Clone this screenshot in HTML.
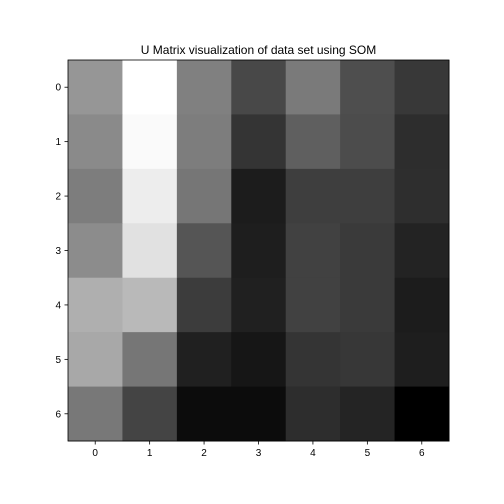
<!DOCTYPE html>
<html><head><meta charset="utf-8"><style>
body{margin:0;background:#fff;}
svg{display:block;font-family:"Liberation Sans","DejaVu Sans",sans-serif;}
</style></head><body>
<svg id="chart" width="504" height="504">
<rect width="504" height="504" fill="#fff"/>
<text x="258.5" y="54" text-anchor="middle" font-size="12">U Matrix visualization of data set using SOM</text>
<g id="cells"></g><g id="axes"></g>
</svg>
<script>
const rowLabels = [0,1,2,3,4,5,6];
const colLabels = [0,1,2,3,4,5,6];
const row0 = [150,255,128,72,122,78,56];
const row1 = [138,250,125,52,95,76,45];
const row2 = [125,237,118,28,62,62,46];
const row3 = [140,225,85,30,65,58,35];
const row4 = [175,185,60,32,65,58,28];
const row5 = [168,118,32,22,52,55,30];
const row6 = [120,68,12,12,45,36,0];
const values = [row0,row1,row2,row3,row4,row5,row6];

const ns='http://www.w3.org/2000/svg';
const x0=68,y0=60,W=381,H=381;
const cw=W/colLabels.length, ch=H/rowLabels.length;
const xs=i=>x0+i*cw, ys=j=>y0+j*ch;
const flat=values.flat(); const vmin=Math.min(...flat), vmax=Math.max(...flat);
const gray=v=>{const g=Math.round((v-vmin)/(vmax-vmin)*255);return `rgb(${g},${g},${g})`;};
const cells=document.getElementById('cells');
values.forEach((row,j)=>row.forEach((v,i)=>{
  const r=document.createElementNS(ns,'rect');
  r.setAttribute('x',xs(i));r.setAttribute('y',ys(j));
  r.setAttribute('width',cw+0.5);r.setAttribute('height',ch+0.5);
  r.setAttribute('fill',gray(v));
  
  
  cells.appendChild(r);
}));
const ax=document.getElementById('axes');
const frame=document.createElementNS(ns,'rect');
frame.setAttribute('x',x0);frame.setAttribute('y',y0);frame.setAttribute('width',W);frame.setAttribute('height',H);
frame.setAttribute('fill','none');frame.setAttribute('stroke','#000');frame.setAttribute('stroke-width','0.8');


ax.appendChild(frame);
function line(x1,y1,x2,y2){const l=document.createElementNS(ns,'line');l.setAttribute('x1',x1);l.setAttribute('y1',y1);l.setAttribute('x2',x2);l.setAttribute('y2',y2);l.setAttribute('stroke','#000');l.setAttribute('stroke-width','0.8');


ax.appendChild(l);}
function text(x,y,s,anchor){const t=document.createElementNS(ns,'text');t.setAttribute('x',x);t.setAttribute('y',y);t.setAttribute('text-anchor',anchor);t.setAttribute('font-size','10');t.textContent=s;


ax.appendChild(t);}
colLabels.forEach((c,i)=>{const x=xs(i)+cw/2;line(x,y0+H,x,y0+H+3.5);text(x,y0+H+15,String(c),'middle');});
rowLabels.forEach((r,j)=>{const y=ys(j)+ch/2;line(x0,y,x0-3.5,y);text(x0-7,y+3.5,String(r),'end');});
</script>
</body></html>
